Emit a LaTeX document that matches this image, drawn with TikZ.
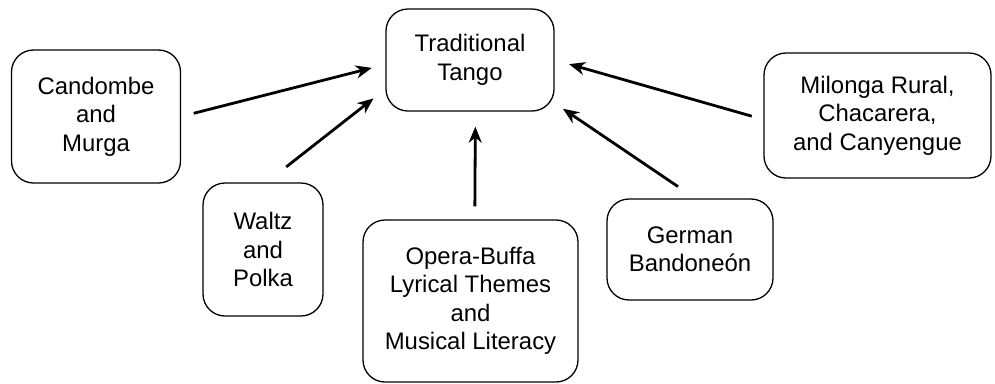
\documentclass[tikz,border=0pt]{standalone}
\usepackage{fontspec}
\setmainfont{Liberation Sans}
\usetikzlibrary{arrows.meta}

\begin{document}
\begin{tikzpicture}[x=1bp,y=-1bp,
    box/.style={draw, line width=1.3bp, rounded corners=22bp, align=center,
        inner sep=0pt, font=\fontsize{24}{28.5}\selectfont},
    link/.style={line width=2.8bp, -{Stealth[length=16bp,width=13bp,inset=5bp]}}]
    \useasboundingbox (0,0) rectangle (995,383);
    \node[box, minimum width=168bp, minimum height=102bp] (tango) at (470,60) {Traditional\\Tango};
    \node[box, minimum width=169bp, minimum height=133bp] (candombe) at (96,116.5) {Candombe\\and\\Murga};
    \node[box, minimum width=120bp, minimum height=133bp] (waltz) at (263,249.5) {Waltz\\and\\Polka};
    \node[box, minimum width=215bp, minimum height=162bp] (opera) at (470.5,301) {Opera-Buffa\\Lyrical Themes\\and\\Musical Literacy};
    \node[box, minimum width=166bp, minimum height=101bp] (german) at (690,249.5) {German\\Bandone\'on};
    \node[box, minimum width=227bp, minimum height=125bp] (milonga) at (877.5,115.5) {Milonga Rural,\\Chacarera,\\and Canyengue};
    \draw[link, shorten <=13bp, shorten >=14bp] (candombe.east) -- (tango.183);
    \draw[link, shorten <=25bp, shorten >=15bp] (waltz.87) -- (tango.199);
    \draw[link, shorten <=13bp, shorten >=15bp] (opera.87) -- (tango.276);
    \draw[link, shorten <=21bp, shorten >=10bp] (german.84) -- (tango.333);
    \draw[link, shorten <=12bp, shorten >=15bp] (milonga.182) -- (tango.east);
\end{tikzpicture}
\end{document}
